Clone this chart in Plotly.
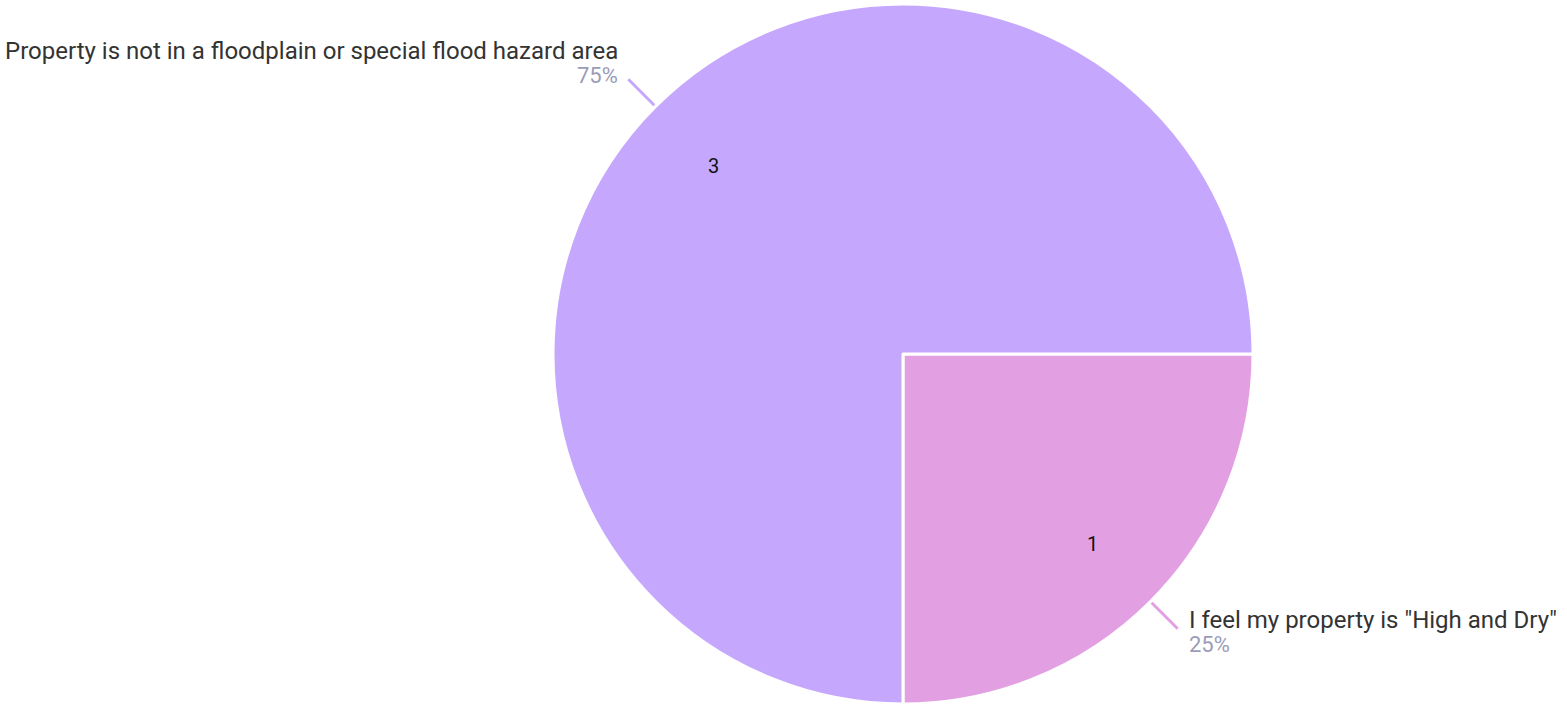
import math
import plotly.graph_objects as go

labels = ['I feel my property is "High and Dry"',
          "Property is not in a floodplain or special flood hazard area"]
values = [1, 3]
colors = ["#E2A0E3", "#C5A8FD"]

W, H = 1567, 706
CX, CY, R = 903, 354, 350
FONT = "Roboto, Inter, sans-serif"

fig = go.Figure()
fig.add_trace(go.Pie(
    labels=labels, values=values, sort=False, direction="clockwise", rotation=90,
    marker=dict(colors=colors, line=dict(color="white", width=3)),
    textinfo="none", hoverinfo="label+value+percent", showlegend=False,
    domain=dict(x=[(CX - R) / W, (CX + R) / W], y=[(H - CY - R) / H, (H - CY + R) / H]),
))

total = sum(values)
shapes, annotations = [], []
cum = 0.0
for lab, v, c in zip(labels, values, colors):
    mid = (cum + v / 2) / total  # fraction of turn
    cum += v
    # start at 3 o'clock, clockwise
    ang = math.radians(90 + mid * 360)
    ux, uy = math.sin(ang), -math.cos(ang)  # screen coords (y down)
    annotations.append(dict(x=CX + ux * R * 0.765, y=CY + uy * R * 0.765 + 1, xref="x", yref="y",
                            text=str(v), showarrow=False,
                            font=dict(family=FONT, size=20, color="#111111")))
    x0, y0 = CX + ux * R * 1.005, CY + uy * R * 1.005
    x1, y1 = CX + ux * R * 1.11, CY + uy * R * 1.11
    shapes.append(dict(type="line", xref="x", yref="y", x0=x0, y0=y0, x1=x1, y1=y1,
                       line=dict(color=c, width=3)))
    pct = f"{round(100 * v / total)}%"
    if ux < 0:
        tx, xa, ly, py = x1 - 8, "right", y1 - 28.5, y1 - 4
    else:
        tx, xa, ly, py = x1 + 9, "left", y1 - 9, y1 + 15.5
    annotations.append(dict(x=tx, y=ly, xref="x", yref="y", text=lab, showarrow=False,
                            xanchor=xa, yanchor="middle",
                            font=dict(family=FONT, size=24, color="#333333")))
    annotations.append(dict(x=tx, y=py, xref="x", yref="y", text=pct, showarrow=False,
                            xanchor=xa, yanchor="middle",
                            font=dict(family=FONT, size=22, color="#9C9CB8")))

fig.update_layout(
    width=W, height=H, margin=dict(l=0, r=0, t=0, b=0),
    paper_bgcolor="white", plot_bgcolor="rgba(0,0,0,0)",
    xaxis=dict(range=[0, W], visible=False, fixedrange=True),
    yaxis=dict(range=[H, 0], visible=False, fixedrange=True),
    shapes=shapes, annotations=annotations,
)
fig.write_html("out.html", config={"displayModeBar": False},
               post_script="document.body.style.margin='0';")
